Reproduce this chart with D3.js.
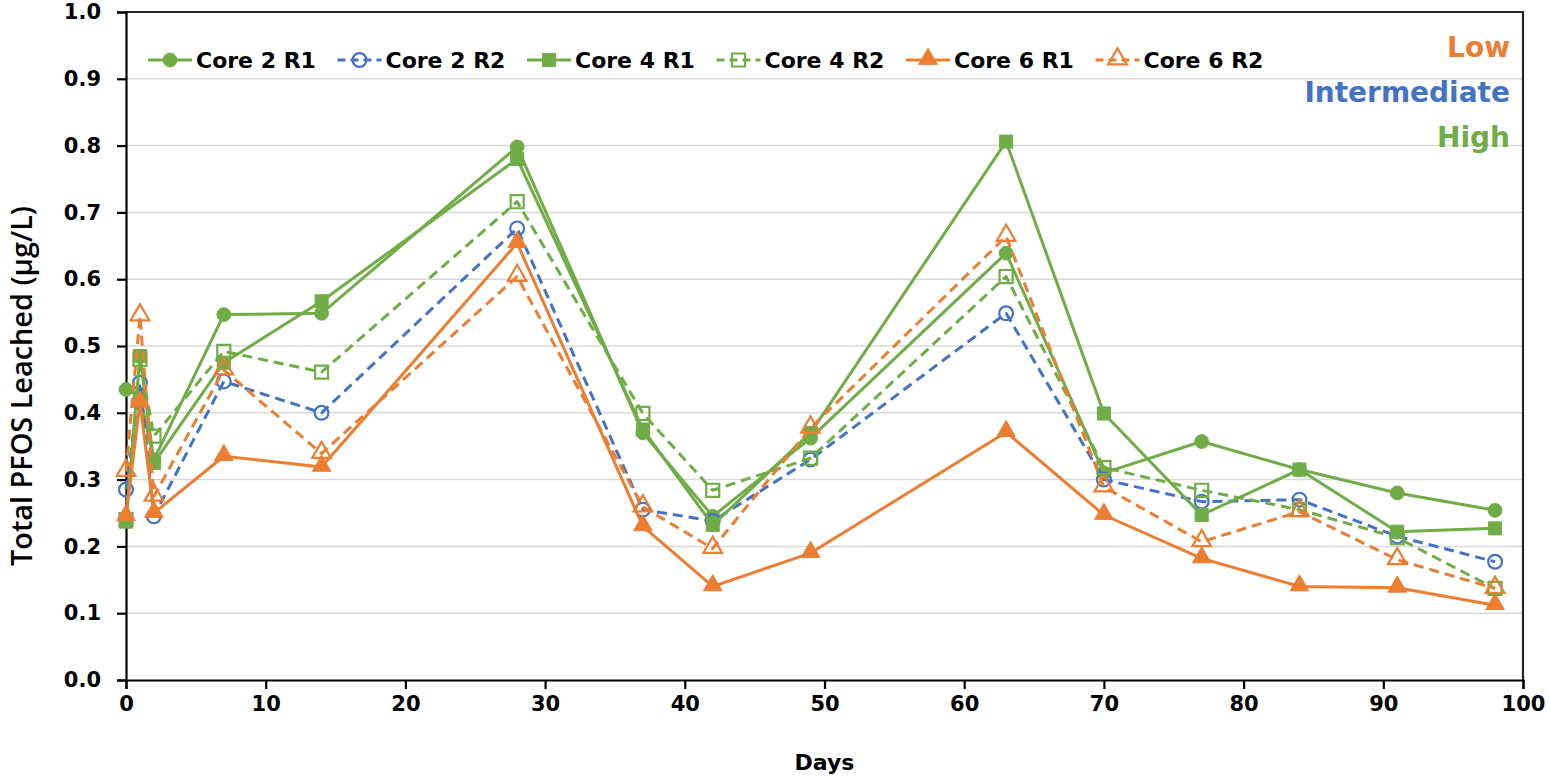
<!DOCTYPE html>
<html>
<head>
<meta charset="utf-8">
<script src="https://cdn.jsdelivr.net/npm/d3@7/dist/d3.min.js"></script>
<style>
  html, body { margin: 0; padding: 0; background: #fff; }
  svg { display: block; }
</style>
</head>
<body>
<div id="chart"></div>
<script>
// Sampling days
const days = [0, 1, 2, 7, 14, 28, 37, 42, 49, 63, 70, 77, 84, 91, 98];

// Total PFOS leached (µg/L) per core / replicate
const core2R1 = [0.435, 0.425, 0.330, 0.547, 0.549, 0.798, 0.370, 0.245, 0.362, 0.639, 0.310, 0.357, 0.315, 0.280, 0.254];
const core2R2 = [0.285, 0.445, 0.245, 0.447, 0.400, 0.676, 0.255, 0.238, 0.330, 0.549, 0.300, 0.267, 0.270, 0.215, 0.177];
const core4R1 = [0.237, 0.485, 0.325, 0.475, 0.567, 0.780, 0.375, 0.232, 0.370, 0.806, 0.399, 0.247, 0.315, 0.222, 0.227];
const core4R2 = [0.240, 0.480, 0.365, 0.492, 0.461, 0.716, 0.399, 0.284, 0.332, 0.604, 0.318, 0.284, 0.255, 0.213, 0.137];
const core6R1 = [0.245, 0.415, 0.250, 0.335, 0.319, 0.654, 0.230, 0.140, 0.190, 0.371, 0.247, 0.182, 0.140, 0.138, 0.112];
const core6R2 = [0.312, 0.545, 0.275, 0.464, 0.339, 0.604, 0.259, 0.197, 0.377, 0.664, 0.289, 0.207, 0.252, 0.180, 0.137];

const seriesNames = ["Core 2 R1", "Core 2 R2", "Core 4 R1", "Core 4 R2", "Core 6 R1", "Core 6 R2"];
const xTicks = [0, 10, 20, 30, 40, 50, 60, 70, 80, 90, 100];
const yTicks = [0, 0.1, 0.2, 0.3, 0.4, 0.5, 0.6, 0.7, 0.8, 0.9, 1.0];
const levelLabels = ["Low", "Intermediate", "High"];

const GREEN = "#70AD47", BLUE = "#4472C4", ORANGE = "#ED7D31";

const series = [
  { name: seriesNames[0], values: core2R1, color: GREEN,  dash: null,   shape: "circle",   filled: true },
  { name: seriesNames[1], values: core2R2, color: BLUE,   dash: "10,6", shape: "circle",   filled: false },
  { name: seriesNames[2], values: core4R1, color: GREEN,  dash: null,   shape: "square",   filled: true },
  { name: seriesNames[3], values: core4R2, color: GREEN,  dash: "10,6", shape: "square",   filled: false },
  { name: seriesNames[4], values: core6R1, color: ORANGE, dash: null,   shape: "triangle", filled: true },
  { name: seriesNames[5], values: core6R2, color: ORANGE, dash: "10,6", shape: "triangle", filled: false }
];
const levelColors = [ORANGE, BLUE, GREEN];

const W = 1550, H = 776;
const margin = { left: 126, right: 27, top: 12, bottom: 96 };

const svg = d3.select("#chart").append("svg").attr("width", W).attr("height", H);

const x = d3.scaleLinear().domain([0, 100]).range([margin.left, W - margin.right]);
const y = d3.scaleLinear().domain([0, 1]).range([H - margin.bottom, margin.top]);

const TICK_FONT = "'DejaVu Sans', sans-serif";

// horizontal gridlines
svg.append("g")
  .selectAll("line")
  .data(yTicks.filter(t => t > 0 && t < 1))
  .join("line")
  .attr("x1", x(0)).attr("x2", x(100))
  .attr("y1", d => y(d)).attr("y2", d => y(d))
  .attr("stroke", "#d9d9d9").attr("stroke-width", 1.5);

// plot frame (top and right edges)
svg.append("path")
  .attr("d", `M${x(0)},${y(1)}H${x(100)}V${y(0)}`)
  .attr("fill", "none").attr("stroke", "#262626").attr("stroke-width", 2.2);

// axes
const xAxis = svg.append("g")
  .attr("transform", `translate(0,${y(0)})`)
  .call(d3.axisBottom(x).tickValues(xTicks).tickSize(9).tickPadding(5).tickFormat(d3.format("d")));
const yAxis = svg.append("g")
  .attr("transform", `translate(${x(0)},0)`)
  .call(d3.axisLeft(y).tickValues(yTicks).tickSize(9).tickPadding(16).tickFormat(d3.format(".1f")));

[xAxis, yAxis].forEach(g => {
  g.select(".domain").attr("stroke", "#000").attr("stroke-width", 2.2);
  g.selectAll(".tick line").attr("stroke", "#000").attr("stroke-width", 2.2);
  g.selectAll(".tick text")
    .attr("fill", "#000")
    .style("font-family", TICK_FONT)
    .style("font-weight", "bold")
    .style("font-size", "21px");
});
xAxis.selectAll(".tick text").attr("dy", "0.8em");

// axis titles
svg.append("text")
  .attr("x", (x(0) + x(100)) / 2).attr("y", 770)
  .attr("text-anchor", "middle")
  .style("font-family", TICK_FONT).style("font-weight", "bold").style("font-size", "22px")
  .text("Days");

svg.append("text")
  .attr("transform", `translate(32,${(y(0) + y(1)) / 2 + 40}) rotate(-90)`)
  .attr("text-anchor", "middle")
  .style("font-family", "'Open Sans', sans-serif").style("font-size", "28px").style("font-weight", 600)
  .attr("textLength", 360).attr("lengthAdjust", "spacingAndGlyphs")
  .text("Total PFOS Leached (µg/L)");

// marker drawing helper
const symbolFor = s => s === "circle" ? d3.symbolCircle : s === "square" ? d3.symbolSquare : d3.symbolTriangle;
const sizeFor = s => s === "circle" ? 150 : s === "square" ? 170 : 150;

function drawMarker(g, s, cx, cy) {
  g.append("path")
    .attr("d", d3.symbol().type(symbolFor(s.shape)).size(sizeFor(s.shape))())
    .attr("transform", `translate(${cx},${cy + (s.shape === "triangle" ? -1 : 0)})`)
    .attr("fill", s.filled ? s.color : "none")
    .attr("stroke", s.color)
    .attr("stroke-width", s.filled ? 1 : 2.2);
}

const line = d3.line().x(d => x(d[0])).y(d => y(d[1]));

const plot = svg.append("g");
series.forEach(s => {
  const pts = days.map((d, i) => [d, s.values[i]]);
  const g = plot.append("g");
  g.append("path")
    .attr("d", line(pts))
    .attr("fill", "none")
    .attr("stroke", s.color)
    .attr("stroke-width", 3)
    .attr("stroke-linejoin", "round")
    .attr("stroke-dasharray", s.dash);
  pts.forEach(p => drawMarker(g, s, x(p[0]), y(p[1])));
});

// legend
const legendY = 60;
const legend = svg.append("g");
series.forEach((s, i) => {
  const lx = 148 + i * 189.5;
  const g = legend.append("g");
  g.append("line")
    .attr("x1", lx).attr("x2", lx + 44)
    .attr("y1", legendY).attr("y2", legendY)
    .attr("stroke", s.color).attr("stroke-width", 3)
    .attr("stroke-dasharray", s.dash ? "8,5" : null);
  drawMarker(g, s, lx + 22, legendY);
  g.append("text")
    .attr("x", lx + 48).attr("y", legendY)
    .attr("dominant-baseline", "central")
    .style("font-family", TICK_FONT).style("font-weight", "bold").style("font-size", "22px")
    .attr("fill", "#000")
    .text(s.name);
});

// exposure level labels
levelLabels.forEach((t, i) => {
  svg.append("text")
    .attr("x", 1510).attr("y", 47 + i * 45)
    .attr("text-anchor", "end")
    .attr("dominant-baseline", "central")
    .style("font-family", TICK_FONT).style("font-weight", "bold").style("font-size", "28px")
    .attr("fill", levelColors[i])
    .text(t);
});
</script>
</body>
</html>
